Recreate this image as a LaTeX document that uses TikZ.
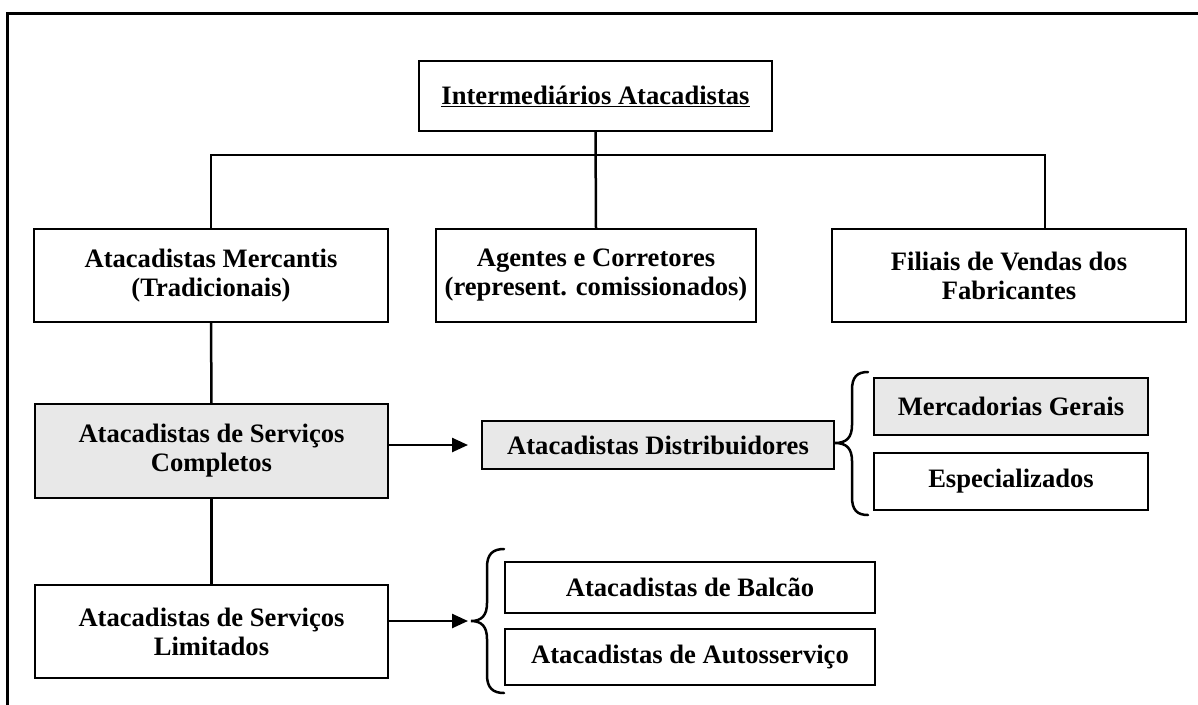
\documentclass[tikz,border=0pt]{standalone}
\usepackage{fontspec}
\setmainfont{Liberation Serif}
\usetikzlibrary{arrows.meta}
\definecolor{boxgray}{HTML}{E8E8E8}
\tikzset{
  box/.style={draw, line width=2.8pt, inner sep=0pt, outer sep=0pt, align=center,
    font=\fontsize{26.6}{29}\selectfont\bfseries},
  shaded/.style={box, fill=boxgray},
  link/.style={line width=2.5pt},
  arrowlink/.style={line width=2.5pt, -{Triangle[length=16pt,width=14pt]}},
  curly/.style={line width=2.5pt, line cap=round}
}
\begin{document}
\begin{tikzpicture}[x=1pt,y=-1pt]
\useasboundingbox (0,0) rectangle (1198,704);
\clip (0,0) rectangle (1198,704);
% outer frame
\draw[line width=3.2pt] (7.5,730) -- (7.5,13.5) -- (1230,13.5);

% boxes
\node[box, minimum width=353pt, minimum height=70pt] (top) at (595.5,96) {\underline{Intermediários Atacadistas}};
\node[box, minimum width=354pt, minimum height=93pt] (merc) at (211,275.5) {Atacadistas Mercantis\\(Tradicionais)};
\node[box, minimum width=320pt, minimum height=93pt] (agen) at (596,275.5) {Agentes e Corretores\\(represent. comissionados)};
\node[box, minimum width=354pt, minimum height=93pt] (fil) at (1009,275.5) {Filiais de Vendas dos\\Fabricantes};
\node[shaded, minimum width=353pt, minimum height=94pt] (comp) at (211.5,451) {Atacadistas de Serviços\\Completos};
\node[box, minimum width=353pt, minimum height=93pt] (lim) at (211.5,631.5) {Atacadistas de Serviços\\Limitados};
\node[shaded, minimum width=352pt, minimum height=48pt] (dist) at (658,445) {Atacadistas Distribuidores};
\node[shaded, minimum width=274pt, minimum height=57pt] (merg) at (1011,406.5) {Mercadorias Gerais};
\node[box, minimum width=274pt, minimum height=57pt] (esp) at (1011,481.5) {Especializados};
\node[box, minimum width=370pt, minimum height=51pt] (bal) at (690,587.5) {Atacadistas de Balcão};
\node[box, minimum width=370pt, minimum height=56pt] (auto) at (690,657) {Atacadistas de Autosserviço};

% tree connectors
\coordinate (bus) at (596,155);
\coordinate (busR) at (1045,155);
\draw[link] (top.south) -- (agen.north);
\draw[link] (merc.north) -- (merc.north |- bus) -- (busR) -- (busR |- fil.north);
\draw[link] (merc.south) -- (comp.north);
\draw[link] (comp.south) -- (lim.north);

% arrows
\coordinate (tipA) at (468,445);
\coordinate (tipB) at (468,621);
\draw[arrowlink] (comp.east |- tipA) -- (tipA);
\draw[arrowlink] (lim.east |- tipB) -- (tipB);

% braces
\draw[curly] (868,372) .. controls (857,372) and (852,377) .. (852,390)
  -- (852,425) .. controls (852,437) and (847,443) .. (835,443)
  .. controls (847,443) and (852,449) .. (852,461)
  -- (852,497) .. controls (852,510) and (857,515) .. (868,515);
\draw[curly] (504,549) .. controls (493,549) and (487,554) .. (487,567)
  -- (487,603) .. controls (487,615) and (482,621) .. (471,621)
  .. controls (482,621) and (487,627) .. (487,639)
  -- (487,675) .. controls (487,688) and (493,693) .. (504,693);
\end{tikzpicture}
\end{document}
